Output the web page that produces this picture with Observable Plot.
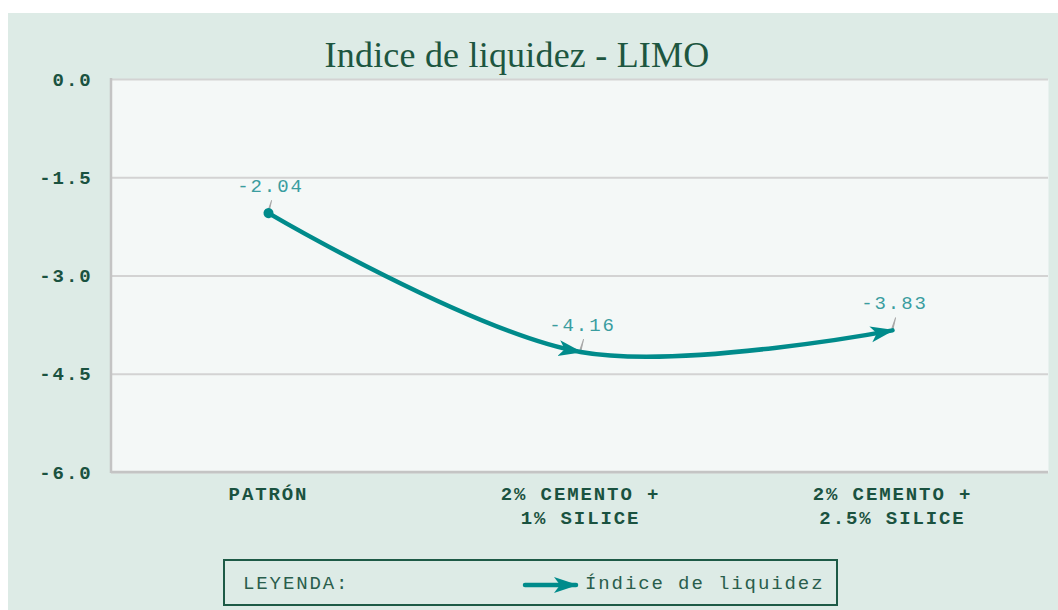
<!DOCTYPE html>
<html>
<head>
<meta charset="utf-8">
<script src="https://cdn.jsdelivr.net/npm/d3@7"></script>
<script src="https://cdn.jsdelivr.net/npm/@observablehq/plot@0.6"></script>
<style>
  html, body { margin: 0; padding: 0; background: #ffffff; }
  #page { position: relative; width: 1058px; height: 610px; overflow: hidden; }
  #panel { position: absolute; left: 8px; top: 13px; width: 1050px; height: 597px; background: #ddebe6; }
  #title { position: absolute; left: 267px; top: 37px; width: 500px; text-align: center;
           font-family: "Liberation Serif", "DejaVu Serif", serif; font-size: 36px; line-height: 36px;
           color: #1d5640; white-space: nowrap; letter-spacing: 0.2px; }
  #chart { position: absolute; left: 8px; top: 13px; }
  #chart svg text { letter-spacing: 1.9px; }
  #legend { position: absolute; left: 223px; top: 559px; width: 611px; height: 43px;
            border: 2px solid #1d5a46; box-sizing: content-box;
            font-family: "Liberation Mono", monospace; font-size: 19px; color: #2a5e4c; letter-spacing: 1.9px; }
  #legend .lab { position: absolute; left: 18px; top: 12px; }
  #legend svg { position: absolute; left: 297px; top: 14px; }
  #legend .itemtext { position: absolute; left: 360px; top: 12px; white-space: nowrap; }
</style>
</head>
<body>
<div id="page">
  <div id="panel"></div>
  <div id="title">Indice de liquidez - LIMO</div>
  <div id="chart"></div>
  <div id="legend">
    <span class="lab">LEYENDA:</span>
    <svg width="60" height="20" viewBox="0 0 60 20">
      <defs>
        <marker id="legArrow" markerUnits="userSpaceOnUse" viewBox="0 -9 24 18" refX="22" refY="0"
                markerWidth="24" markerHeight="18" orient="auto">
          <path d="M0,-8 L24,0 L0,8 L6,0 Z" fill="#008b8b"></path>
        </marker>
      </defs>
      <line x1="3" y1="10" x2="54" y2="10" stroke="#008b8b" stroke-width="4.5" stroke-linecap="round" marker-end="url(#legArrow)"></line>
    </svg>
    <span class="itemtext">Índice de liquidez</span>
  </div>
</div>
<script>
const categories = ["PATRÓN", "2% CEMENTO +\n1% SILICE", "2% CEMENTO +\n2.5% SILICE"];
const values = [-2.04, -4.16, -3.83];
const yTicks = [0, -1.5, -3, -4.5, -6];

const data = categories.map((c, i) => ({category: c, value: values[i]}));

const teal = "#008b8b";
const labelTeal = "#3a9d9f";
const tickGreen = "#1a5240";

const marginLeft = 103, marginTop = 66, marginBottom = 81, marginRight = 10;

const chart = Plot.plot({
  width: 1050,
  height: 540,
  marginLeft, marginRight, marginTop, marginBottom,
  style: {background: "transparent", fontFamily: "'Liberation Mono', 'DejaVu Sans Mono', monospace", overflow: "visible"},
  x: {type: "point", domain: categories, padding: 0.5},
  y: {domain: [-6, 0]},
  marks: [
    Plot.frame({fill: "#f4f8f7", stroke: "none"}),
    Plot.ruleY(yTicks, {stroke: "#d3d3d3", strokeWidth: 2}),
    Plot.axisY({ticks: yTicks, tickSize: 0, tickPadding: 19, tickFormat: d => d.toFixed(1),
      fontSize: 19, fontWeight: "bold", fill: tickGreen, label: null}),
    Plot.axisX({tickSize: 0, tickPadding: 10, fontSize: 19, fontWeight: "bold", fill: tickGreen,
      lineHeight: 1.27, label: null}),
    Plot.vector(data, {x: "category", y: "value", length: 11, rotate: 16, shape: "spike", r: 0.6,
      anchor: "start", stroke: "#a8a8a8", fill: "#a8a8a8", strokeWidth: 1, dy: -2}),
    Plot.line(data, {x: "category", y: "value", curve: "catmull-rom", stroke: teal, strokeWidth: 4.5}),
    Plot.text(data, {x: "category", y: "value", text: d => d.value.toFixed(2), dy: -27, dx: 2,
      fontSize: 19, fill: labelTeal})
  ]
});

document.getElementById("chart").appendChild(chart);

// axis edges (left and bottom) in a slightly darker grey
const svg = d3.select(chart);
const innerBottom = 540 - marginBottom;
const edges = svg.insert("g", 'g[aria-label="y-axis tick label"]');
edges.append("line").attr("x1", marginLeft).attr("x2", marginLeft).attr("y1", marginTop - 1).attr("y2", innerBottom + 1)
  .attr("stroke", "#c4c4c4").attr("stroke-width", 2.5);
edges.append("line").attr("x1", marginLeft).attr("x2", 1050 - marginRight).attr("y1", innerBottom).attr("y2", innerBottom)
  .attr("stroke", "#c4c4c4").attr("stroke-width", 2.5);

// custom markers on the line
const defs = svg.insert("defs", ":first-child");
defs.append("marker").attr("id", "lineArrow").attr("markerUnits", "userSpaceOnUse")
  .attr("viewBox", "0 -9 24 18").attr("refX", 22).attr("refY", 0)
  .attr("markerWidth", 24).attr("markerHeight", 18).attr("orient", "auto")
  .append("path").attr("d", "M0,-8 L24,0 L0,8 L6,0 Z").attr("fill", teal);
defs.append("marker").attr("id", "lineDot").attr("markerUnits", "userSpaceOnUse")
  .attr("viewBox", "-6 -6 12 12").attr("refX", 0).attr("refY", 0)
  .attr("markerWidth", 12).attr("markerHeight", 12).attr("orient", "auto")
  .append("circle").attr("r", 5).attr("fill", teal);
svg.selectAll('g[aria-label="line"] path')
  .attr("marker-start", "url(#lineDot)")
  .attr("marker-mid", "url(#lineArrow)")
  .attr("marker-end", "url(#lineArrow)");
</script>
</body>
</html>
